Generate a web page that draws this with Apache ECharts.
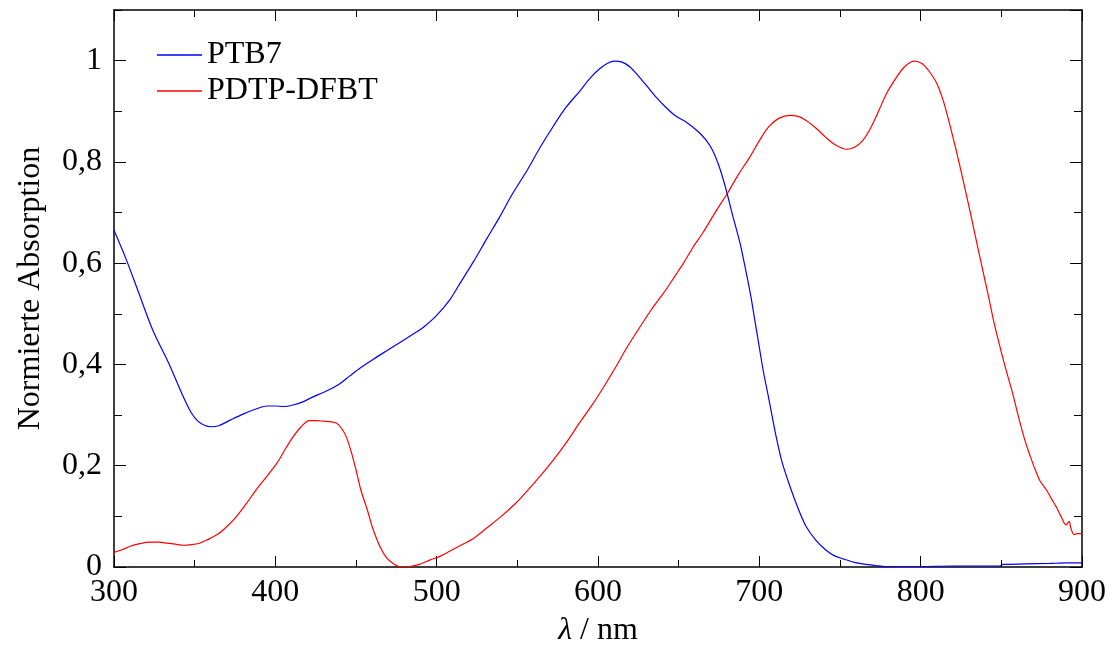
<!DOCTYPE html>
<html>
<head>
<meta charset="utf-8">
<script src="https://cdn.jsdelivr.net/npm/echarts@6/dist/echarts.min.js"></script>
<style>
html,body{margin:0;padding:0;background:#fff;}
#chart{width:1109px;height:652px;}
</style>
</head>
<body>
<div id="chart"></div>
<script>
// PTB7 (blue)
const ptb7Wavelength = [300,307,314,324,334,342,348,352,356,360,365,372,380,388,395,400,405,411,417,422,432,440,446,453,461,470,479,486,492,500,508,515,523,531,539,547,556,564,572,580,589,595,601,606,610,615,620,625,630,636,642,648,655,662,667,671,675,679,683,688,691,695,702,706,710,714,719,724,729,735,741,746,752,759,766,772,778,790,800,820,840,849,851,865,880,890,900];
const ptb7Values = [0.665,0.612,0.553,0.468,0.402,0.343,0.304,0.288,0.280,0.277,0.279,0.290,0.302,0.312,0.318,0.318,0.317,0.320,0.326,0.334,0.348,0.362,0.377,0.394,0.411,0.429,0.447,0.461,0.474,0.497,0.527,0.563,0.604,0.648,0.691,0.737,0.783,0.828,0.869,0.907,0.941,0.965,0.984,0.995,0.999,0.997,0.987,0.970,0.951,0.928,0.908,0.891,0.878,0.860,0.843,0.823,0.792,0.750,0.700,0.640,0.595,0.530,0.395,0.330,0.264,0.208,0.159,0.116,0.080,0.053,0.034,0.023,0.016,0.009,0.005,0.003,0.001,0.001,0.001,0.002,0.002,0.002,0.005,0.006,0.007,0.008,0.008];

// PDTP-DFBT (red)
const pdtpWavelength = [300,305,310,316,322,328,333,338,343,348,353,358,364,370,376,382,388,395,401,406,411,416,421,426,430,434,438,441,444,447,450,453,457,460,463,466,469,473,477,483,490,496,502,508,515,523,531,540,549,556,564,572,580,588,597,604,611,618,626,633,638,642,648,653,659,665,672,680,687,694,700,706,712,719,724,729,735,741,747,754,759,764,769,774,779,785,790,796,801,805,810,814,818,822,826,830,834,838,842,846,851,854,857,861,865,868,871,874,878,881,884,887,890,892,893,895,897,900];
const pdtpValues = [0.029,0.034,0.041,0.046,0.049,0.049,0.047,0.045,0.043,0.044,0.047,0.054,0.064,0.080,0.100,0.125,0.152,0.180,0.205,0.232,0.257,0.277,0.289,0.289,0.288,0.287,0.284,0.274,0.257,0.228,0.192,0.152,0.113,0.080,0.054,0.033,0.018,0.007,0.001,0.001,0.006,0.014,0.021,0.031,0.043,0.057,0.077,0.100,0.126,0.150,0.179,0.210,0.244,0.282,0.323,0.358,0.395,0.434,0.474,0.508,0.530,0.547,0.576,0.600,0.632,0.660,0.697,0.737,0.775,0.809,0.842,0.870,0.886,0.892,0.890,0.882,0.867,0.849,0.834,0.825,0.829,0.842,0.867,0.901,0.936,0.967,0.988,0.999,0.994,0.980,0.955,0.921,0.874,0.823,0.768,0.711,0.652,0.593,0.535,0.475,0.412,0.377,0.343,0.292,0.246,0.218,0.192,0.170,0.152,0.135,0.119,0.100,0.083,0.090,0.078,0.064,0.066,0.066];

const seriesNames = ['PTB7', 'PDTP-DFBT'];
const xTicks = [300, 400, 500, 600, 700, 800, 900];
const yTicks = [0, 0.2, 0.4, 0.6, 0.8, 1];

const FONT = '"Liberation Serif", "DejaVu Serif", serif';
const FS = 32;
const pairs = (xs, ys) => xs.map((x, i) => [x, ys[i]]);

const chart = echarts.init(document.getElementById('chart'), null, {renderer: 'canvas'});

const xBase = {
  type: 'value', min: xTicks[0], max: xTicks[xTicks.length - 1], interval: 100,
  splitLine: {show: false},
  axisLine: {show: true, onZero: false, lineStyle: {color: '#000', width: 1.5}},
  axisTick: {show: true, inside: true, length: 11, lineStyle: {color: '#000', width: 1}},
  minorTick: {show: true, splitNumber: 2, length: 7, lineStyle: {color: '#000', width: 1}},
};
const yBase = (pos, interval, len, showLine) => ({
  type: 'value', position: pos, min: 0, max: 1.1, interval: interval,
  splitLine: {show: false},
  axisLine: {show: showLine, onZero: false, lineStyle: {color: '#000', width: 1.5}},
  axisTick: {show: true, inside: true, length: len, lineStyle: {color: '#000', width: 1}},
  axisLabel: {show: false},
});

const yMain = yBase('left', 0.2, 12, true);
yMain.axisLabel = {
  show: true, showMaxLabel: false, margin: 12,
  fontFamily: FONT, fontSize: FS, color: '#000',
  formatter: v => (yTicks.some(t => Math.abs(t - v) < 1e-9) ? String(+v.toFixed(1)).replace('.', ',') : '')
};
yMain.name = 'Normierte Absorption';
yMain.nameLocation = 'middle';
yMain.nameGap = 67;
yMain.nameTextStyle = {fontFamily: FONT, fontSize: FS, color: '#000'};

chart.setOption({
  backgroundColor: '#fff',
  animation: false,
  grid: {left: 114, right: 26, top: 10, bottom: 85, containLabel: false},
  legend: {
    orient: 'vertical', left: 152, top: 34, itemGap: 4,
    itemWidth: 45, itemHeight: 1.3, icon: 'rect',
    textStyle: {fontFamily: FONT, fontSize: FS, color: '#000'},
    data: seriesNames
  },
  xAxis: [
    Object.assign({}, xBase, {
      position: 'bottom',
      axisLabel: {show: true, margin: 10, fontFamily: FONT, fontSize: FS, color: '#000'},
      name: '{i|λ} / nm', nameLocation: 'middle', nameGap: 48,
      nameTextStyle: {fontFamily: FONT, fontSize: FS, color: '#000',
        rich: {i: {fontFamily: FONT, fontSize: FS, fontStyle: 'italic', color: '#000'}}}
    }),
    Object.assign({}, xBase, {position: 'top', axisLabel: {show: false}})
  ],
  yAxis: [
    yMain,
    yBase('left', 0.1, 8, false),
    yBase('right', 0.2, 12, true),
    yBase('right', 0.1, 8, false)
  ],
  series: [
    {name: seriesNames[0], type: 'line', xAxisIndex: 0, yAxisIndex: 0, symbol: 'none', smooth: 0.3,
     lineStyle: {color: '#0000ff', width: 1.2}, itemStyle: {color: '#0000ff'},
     data: pairs(ptb7Wavelength, ptb7Values)},
    {name: seriesNames[1], type: 'line', xAxisIndex: 0, yAxisIndex: 0, symbol: 'none', smooth: 0.3,
     lineStyle: {color: '#ff0000', width: 1.2}, itemStyle: {color: '#ff0000'},
     data: pairs(pdtpWavelength, pdtpValues)}
  ]
});
</script>
</body>
</html>
